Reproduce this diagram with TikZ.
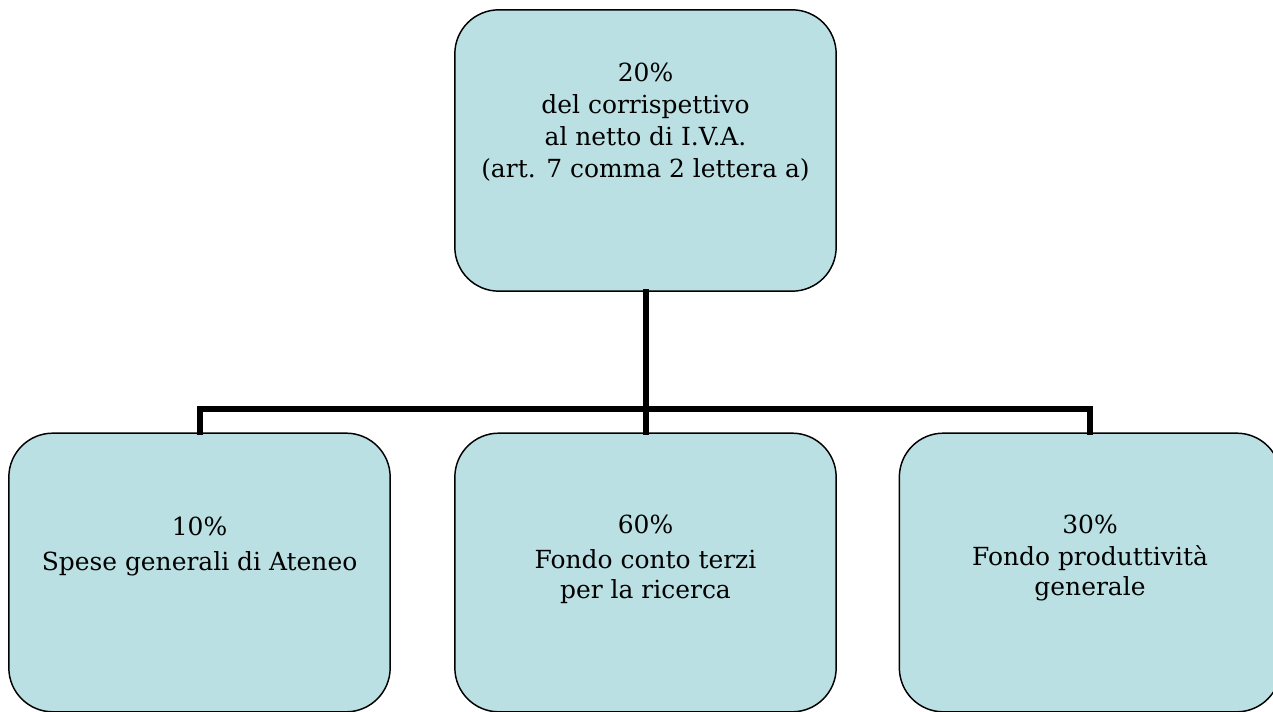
\documentclass[tikz,border=0pt]{standalone}
\usepackage{fontspec}
\setmainfont{DejaVu Serif}
\definecolor{boxfill}{RGB}{187,224,227}
\tikzset{
  box/.style={draw=black, line width=1.1pt, fill=boxfill, rounded corners=33pt,
    inner sep=0pt, minimum width=286pt},
  topbox/.style={box, minimum height=211pt},
  botbox/.style={box, minimum height=209pt},
  lbl/.style={align=center, anchor=base, inner sep=0pt, font=\fontsize{18.7}{22.5}\selectfont},
  toplbl/.style={lbl, font=\fontsize{18.7}{24}\selectfont},
  wire/.style={line width=4.5pt, line cap=rect}
}
\begin{document}
\begin{tikzpicture}[x=0.75pt,y=-0.75pt]
\useasboundingbox (0,0) rectangle (1273,712);
\node[topbox] (top) at (645.5,150.5) {};
\node[botbox] (left) at (199.5,572.5) {};
\node[botbox] (mid) at (645.5,572.5) {};
\node[botbox] (right) at (1090,572.5) {};
\coordinate (j) at (645.5,409);
\draw[wire] (top.south) -- (mid.north);
\draw[wire] (left.north) -- (left.north |- j) -- (right.north |- j) -- (right.north);
\node[toplbl] (ttop) at (645.5,178) {20\%\\del corrispettivo\\al netto di I.V.A.\\(art. 7 comma 2 lettera a)};
\node[lbl] (tleft) at (199.5,570) {10\%\\[3.75pt]Spese generali di Ateneo};
\node[lbl] (tmid) at (645.5,598) {60\%\\[3.75pt]Fondo conto terzi\\per la ricerca};
\node[lbl] (tright) at (1090,595) {30\%\\[1pt]Fondo produttività\\generale};
\end{tikzpicture}
\end{document}
